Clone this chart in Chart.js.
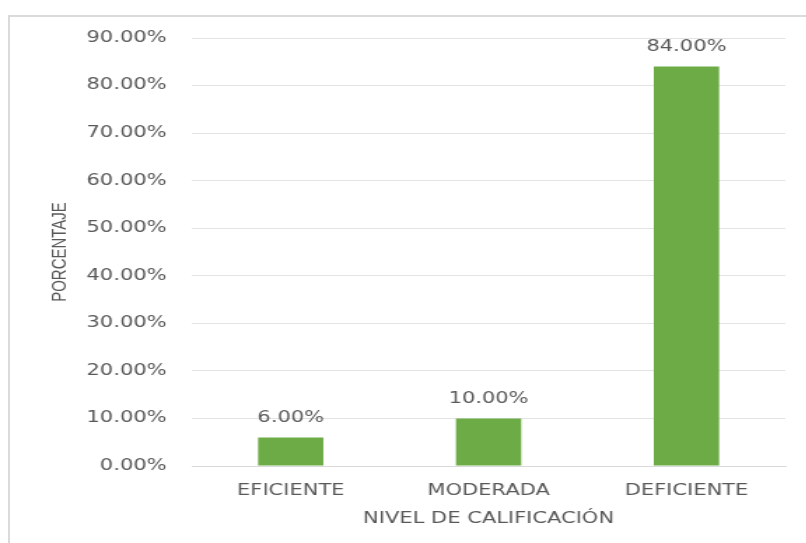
<!DOCTYPE html>
<html>
<head>
<meta charset="utf-8">
<script src="https://cdn.jsdelivr.net/npm/chart.js@4/dist/chart.umd.min.js"></script>
<style>
  html, body { margin: 0; padding: 0; background: #fff; overflow: hidden; }
  #marco {
    position: absolute; left: 8px; top: 15px; width: 820px; height: 560px;
    border-left: 2px solid #dadada; border-top: 2px solid #dadada;
  }
  /* el original esta estirado en horizontal, se imita con scaleX */
  #caja {
    position: absolute; left: 0; top: 0; width: 576px; height: 543px;
    transform: scaleX(1.4); transform-origin: 0 0;
  }
</style>
</head>
<body>
<div id="marco"></div>
<div id="caja"><canvas id="chart"></canvas></div>
<script>
// Datos
const categorias = ['EFICIENTE', 'MODERADA', 'DEFICIENTE'];
const porcentajes = [6, 10, 84];
const etiquetasY = ['0.00%', '10.00%', '20.00%', '30.00%', '40.00%', '50.00%', '60.00%', '70.00%', '80.00%', '90.00%'];

const gris = '#595959';
const fuente = '"DejaVu Sans", Verdana, sans-serif';

// Plugin para escribir el valor encima de cada barra
const etiquetasBarras = {
    id: 'etiquetasBarras',
    afterDatasetsDraw(chart) {
        const ctx = chart.ctx;
        const meta = chart.getDatasetMeta(0);
        ctx.save();
        ctx.fillStyle = gris;
        ctx.font = '15px ' + fuente;
        ctx.textAlign = 'center';
        ctx.textBaseline = 'middle';
        meta.data.forEach((barra, i) => {
            ctx.fillText(porcentajes[i].toFixed(2) + '%', barra.x, barra.y - 19);
        });
        ctx.restore();
    }
};

const ctx = document.getElementById('chart').getContext('2d');
new Chart(ctx, {
    type: 'bar',
    data: {
        labels: categorias,
        datasets: [{
            data: porcentajes,
            backgroundColor: '#6cab46',
            categoryPercentage: 1,
            barPercentage: 0.33
        }]
    },
    options: {
        responsive: true,
        maintainAspectRatio: false,
        animation: false,
        layout: { padding: { left: 10, right: 15, top: 38, bottom: 8 } },
        plugins: {
            legend: { display: false },
            tooltip: { enabled: false }
        },
        scales: {
            x: {
                grid: { display: false, drawTicks: false },
                border: { color: '#d9d9d9' },
                ticks: { color: gris, font: { family: fuente, size: 15 }, padding: 16 },
                title: {
                    display: true,
                    text: 'NIVEL DE CALIFICACIÓN',
                    color: gris,
                    font: { family: fuente, size: 15 },
                    padding: { top: -6, bottom: 7 }
                }
            },
            y: {
                min: 0,
                max: 90,
                ticks: {
                    stepSize: 10,
                    color: gris,
                    font: { family: fuente, size: 15 },
                    padding: 18,
                    callback: (valor, i) => etiquetasY[i]
                },
                grid: { color: '#e3e3e3', drawTicks: false },
                border: { display: false },
                title: {
                    display: true,
                    text: 'PORCENTAJE',
                    color: gris,
                    font: { family: '"Liberation Sans Narrow", "Liberation Sans", sans-serif', size: 15 },
                    padding: { top: 24, bottom: 10 }
                },
                afterFit: (escala) => { escala.width = 127; }
            }
        }
    },
    plugins: [etiquetasBarras]
});
</script>
</body>
</html>
